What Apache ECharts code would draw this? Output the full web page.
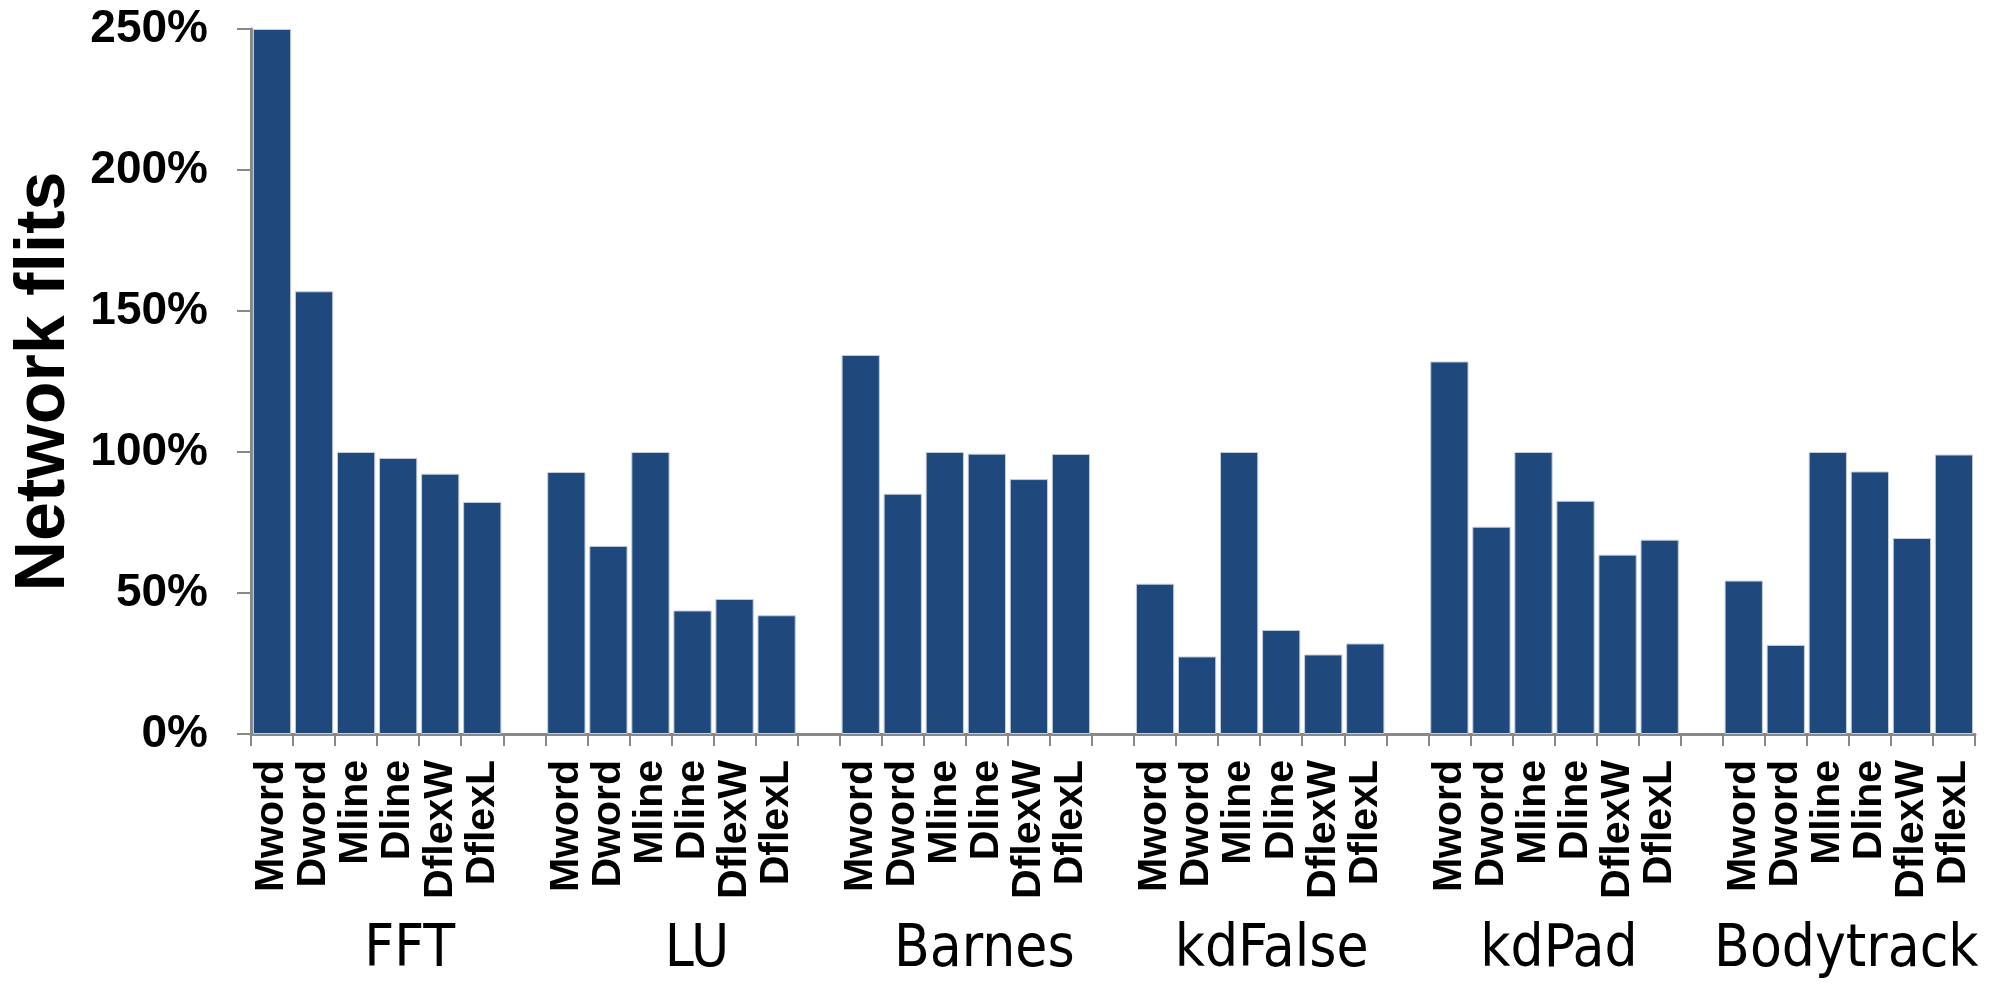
<!DOCTYPE html>
<html>
<head>
<meta charset="utf-8">
<title>Network flits</title>
<script src="https://cdn.jsdelivr.net/npm/echarts@6/dist/echarts.min.js"></script>
<style>
  html, body { margin: 0; padding: 0; background: #ffffff; }
  #chart { width: 2001px; height: 984px; }
</style>
</head>
<body>
<div id="chart"></div>
<script>
// Benchmarks and the protocol variants measured for each of them
const benchmarks = ['FFT', 'LU', 'Barnes', 'kdFalse', 'kdPad', 'Bodytrack'];
const variants = ['Mword', 'Dword', 'Mline', 'Dline', 'DflexW', 'DflexL'];

// Network flits, as a percentage of the Mline baseline
const fftValues       = [250, 157, 100, 97.9, 92.3, 82.3];
const luValues        = [92.9, 66.7, 100, 43.8, 47.9, 42.1];
const barnesValues    = [134.4, 85.2, 100, 99.4, 90.4, 99.3];
const kdFalseValues   = [53.3, 27.5, 100, 36.9, 28.2, 32.1];
const kdPadValues     = [132.1, 73.5, 100, 82.7, 63.6, 68.9];
const bodytrackValues = [54.4, 31.6, 100, 93.1, 69.5, 99.1];

// Y axis ticks (percent)
const yTicks = [0, 50, 100, 150, 200, 250];

const groupValues = [fftValues, luValues, barnesValues, kdFalseValues, kdPadValues, bodytrackValues];

// One slot per variant, with an empty slot separating benchmark groups
const slotLabels = [];
const slotValues = [];
groupValues.forEach((vals, gi) => {
  if (gi > 0) { slotLabels.push(''); slotValues.push('-'); }
  vals.forEach((v, i) => { slotLabels.push(variants[i]); slotValues.push(v); });
});

const axisGray = '#888888';
const chart = echarts.init(document.getElementById('chart'), null, { renderer: 'canvas' });

chart.setOption({
  backgroundColor: '#ffffff',
  animation: false,
  grid: { left: 251, right: 26, top: 29, bottom: 250, containLabel: false },
  xAxis: [
    {
      type: 'category',
      data: slotLabels,
      boundaryGap: true,
      axisLine: { show: true, lineStyle: { color: axisGray, width: 3 } },
      axisTick: { show: true, alignWithLabel: false, interval: 0, length: 12, lineStyle: { color: axisGray, width: 2 } },
      axisLabel: {
        interval: 0,
        rotate: 90,
        margin: 26,
        color: '#000000',
        fontFamily: "'Liberation Sans', Arial, sans-serif",
        fontWeight: 'bold',
        fontSize: 41
      },
      splitLine: { show: false }
    },
    {
      type: 'category',
      position: 'bottom',
      data: benchmarks,
      boundaryGap: true,
      axisLine: { show: false },
      axisTick: { show: false },
      axisLabel: {
        interval: 0,
        margin: 188,
        padding: [0, 0, 0, 30],
        color: '#000000',
        fontFamily: "'Liberation Sans Narrow', 'Arial Narrow', 'DejaVu Sans Condensed', sans-serif",
        fontSize: 58
      },
      splitLine: { show: false }
    }
  ],
  yAxis: {
    type: 'value',
    min: yTicks[0],
    max: yTicks[yTicks.length - 1],
    interval: yTicks[1] - yTicks[0],
    name: 'Network flits',
    nameLocation: 'middle',
    nameGap: 168,
    nameTextStyle: {
      color: '#000000',
      fontFamily: "'Liberation Sans', Arial, sans-serif",
      fontWeight: 'bold',
      fontSize: 70
    },
    axisLine: { show: true, lineStyle: { color: axisGray, width: 3 } },
    axisTick: { show: true, length: 14, lineStyle: { color: axisGray, width: 2 } },
    axisLabel: {
      margin: 43,
      formatter: '{value}%',
      color: '#000000',
      fontFamily: "'Liberation Sans', Arial, sans-serif",
      fontWeight: 'bold',
      fontSize: 46
    },
    splitLine: { show: false }
  },
  series: [
    {
      type: 'bar',
      xAxisIndex: 0,
      data: slotValues,
      barCategoryGap: '9%',
      itemStyle: { color: '#1F497D', borderColor: '#C3CDDB', borderWidth: 1 },
      emphasis: { disabled: true }
    }
  ]
});
</script>
</body>
</html>
